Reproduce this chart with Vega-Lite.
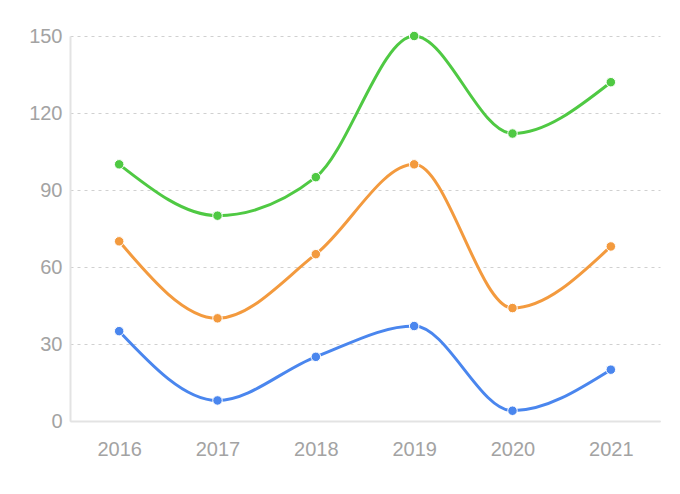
{
  "$schema": "https://vega.github.io/schema/vega-lite/v6.json",
  "width": 590,
  "height": 385,
  "autosize": {"type": "none"},
  "padding": {"left": 70, "top": 36, "right": 20, "bottom": 73},
  "background": "white",
  "config": {"view": {"stroke": null}},
  "data": {"values": [
    {"year": "2016", "series": "A", "value": 100},
    {"year": "2017", "series": "A", "value": 80},
    {"year": "2018", "series": "A", "value": 95},
    {"year": "2019", "series": "A", "value": 150},
    {"year": "2020", "series": "A", "value": 112},
    {"year": "2021", "series": "A", "value": 132},
    {"year": "2016", "series": "B", "value": 70},
    {"year": "2017", "series": "B", "value": 40},
    {"year": "2018", "series": "B", "value": 65},
    {"year": "2019", "series": "B", "value": 100},
    {"year": "2020", "series": "B", "value": 44},
    {"year": "2021", "series": "B", "value": 68},
    {"year": "2016", "series": "C", "value": 35},
    {"year": "2017", "series": "C", "value": 8},
    {"year": "2018", "series": "C", "value": 25},
    {"year": "2019", "series": "C", "value": 37},
    {"year": "2020", "series": "C", "value": 4},
    {"year": "2021", "series": "C", "value": 20}
  ]},
  "encoding": {
    "x": {
      "field": "year", "type": "ordinal",
      "scale": {"type": "point", "padding": 0.5},
      "axis": {
        "title": null, "labelAngle": 0, "ticks": false, "grid": false,
        "domainColor": "#e3e3e3", "domainWidth": 2,
        "labelColor": "#a3a3a3", "labelFont": "Liberation Sans", "labelFontSize": 20,
        "labelPadding": 18
      }
    },
    "y": {
      "field": "value", "type": "quantitative",
      "scale": {"domain": [0, 150], "nice": false},
      "axis": {
        "title": null, "values": [0, 30, 60, 90, 120, 150], "ticks": false,
        "domainColor": "#e3e3e3", "domainWidth": 2,
        "grid": true, "gridColor": "#d0d0d0", "gridDash": [3, 4], "gridWidth": 1,
        "labelColor": "#a3a3a3", "labelFont": "Liberation Sans", "labelFontSize": 20,
        "labelPadding": 8
      }
    },
    "color": {
      "field": "series", "type": "nominal", "legend": null,
      "scale": {"domain": ["A", "B", "C"], "range": ["#4fc943", "#f39a3e", "#4a86ee"]}
    }
  },
  "layer": [
    {"mark": {"type": "line", "interpolate": "monotone", "strokeWidth": 3}},
    {"mark": {"type": "point", "filled": true, "size": 90, "opacity": 1, "stroke": "white", "strokeWidth": 1}}
  ]
}
